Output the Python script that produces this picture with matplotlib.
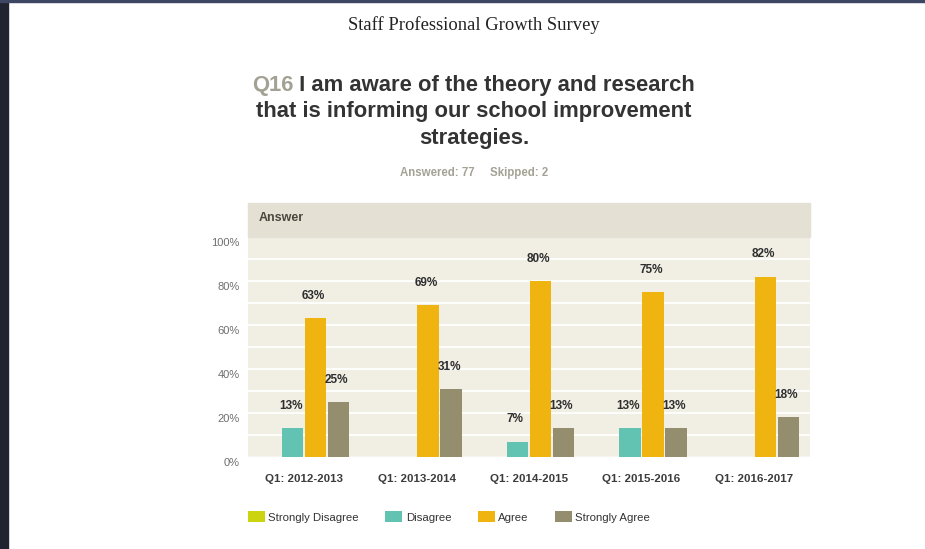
import numpy as np
import matplotlib
matplotlib.use("Agg")
import matplotlib.pyplot as plt
from matplotlib.patches import Rectangle, Patch
from matplotlib.transforms import ScaledTranslation

plt.rcParams['font.family'] = ['Liberation Sans', 'DejaVu Sans']

categories = ["Q1: 2012-2013", "Q1: 2013-2014", "Q1: 2014-2015", "Q1: 2015-2016", "Q1: 2016-2017"]
series = ["Strongly Disagree", "Disagree", "Agree", "Strongly Agree"]
strongly_disagree = [0, 0, 0, 0, 0]
disagree = [13, 0, 7, 13, 0]
agree = [63, 69, 80, 75, 82]
strongly_agree = [25, 31, 13, 13, 18]
colors = ["#cbd40e", "#62c3b3", "#efb40f", "#958e6e"]

W, H = 925, 549
fig = plt.figure(figsize=(W / 100, H / 100), dpi=100)
fig.patch.set_facecolor("white")

# dark window edges
fig.patches.append(Rectangle((0, 0), 8 / W, 1, transform=fig.transFigure, color="#1f2430", zorder=0))
fig.patches.append(Rectangle((0, 1 - 2 / H), 1, 2 / H, transform=fig.transFigure, color="#3d4763", zorder=0))

def fx(px):
    return px / W

def fy(py):
    return 1 - py / H

# plot area: x 248..810, y 237..457 (pixels from top)
ax = fig.add_axes([fx(248), fy(457), fx(810) - fx(248), (457 - 237) / H])
ax.set_facecolor("#f1eee3")

# header band above the plot
fig.patches.append(Rectangle((fx(248), fy(237)), fx(810) - fx(248), 34 / H,
                             transform=fig.transFigure, color="#e5e0d4", zorder=0))
fig.text(fx(259), fy(218), "Answer", fontsize=9, fontweight="bold", color="#4a483e", va="center")

x = np.arange(len(categories))
slot = 0.205
width = 0.19
values = [strongly_disagree, disagree, agree, strongly_agree]
for i, (name, vals, c) in enumerate(zip(series, values, colors)):
    pos = x + (i - 1.5) * slot
    ax.bar(pos, vals, width=width, color=c, zorder=3, label=name)
    for px_, v in zip(pos, vals):
        if v > 0:
            ax.annotate(f"{v}%", xy=(px_, v), xytext=(-1.5, 16), textcoords="offset points",
                        ha="center", va="center", fontsize=8.5, fontweight="bold", color="#2e2e2e")

ax.set_xlim(-0.5, len(categories) - 0.5)
ax.set_ylim(0, 100)
ax.set_yticks(np.arange(0, 101, 10), minor=True)
ax.set_yticks(np.arange(0, 101, 20))
ax.set_yticklabels([f"{v}%" for v in range(0, 101, 20)], fontsize=8, color="#6e6e6e")
ax.grid(axis="y", which="both", color="white", lw=1.3, zorder=1)
ax.tick_params(axis="y", which="both", length=0, pad=6)
for lab in ax.get_yticklabels():
    lab.set_transform(lab.get_transform() + ScaledTranslation(0, -5 / 100, fig.dpi_scale_trans))

ax.set_xticks(x)
ax.set_xticklabels(categories, fontsize=8.25, fontweight="bold", color="#3c3c3c")
ax.tick_params(axis="x", length=0, pad=12.5)
for s in ax.spines.values():
    s.set_visible(False)
ax.axhline(0, color="#d9d4c6", lw=1, zorder=2)

# titles
fig.text(fx(474), fy(25), "Staff Professional Growth Survey", family="Liberation Serif",
         fontsize=13.4, color="#222222", ha="center", va="center")
q = fig.text(fx(252), fy(86), "Q16", fontsize=15.8, fontweight="bold", color="#a3a193", va="center")
ax.annotate(" I am aware of the theory and research", xy=(1, 0.5), xycoords=q, va="center",
            fontsize=15.8, fontweight="bold", color="#333333", annotation_clip=False)
fig.text(fx(474), fy(112), "that is informing our school improvement", fontsize=15.8,
         fontweight="bold", color="#333333", ha="center", va="center")
fig.text(fx(474), fy(138), "strategies.", fontsize=15.8, fontweight="bold", color="#333333",
         ha="center", va="center")
fig.text(fx(400), fy(173), "Answered: 77", fontsize=8.3, fontweight="bold",
         color="#a4a294", ha="left", va="center")
fig.text(fx(490), fy(173), "Skipped: 2", fontsize=8.3, fontweight="bold",
         color="#a4a294", ha="left", va="center")

handles = [Patch(facecolor=c, edgecolor="none", label=s) for s, c in zip(series, colors)]
fig.legend(handles=handles, loc="center left", bbox_to_anchor=(fx(248), fy(517)), ncol=4,
           frameon=False, fontsize=8.2, handlelength=1.5, handleheight=1.1, handletextpad=0.3,
           columnspacing=2.3, borderpad=0, borderaxespad=0, labelcolor="#333333")

fig.savefig("out.png", dpi=100)
